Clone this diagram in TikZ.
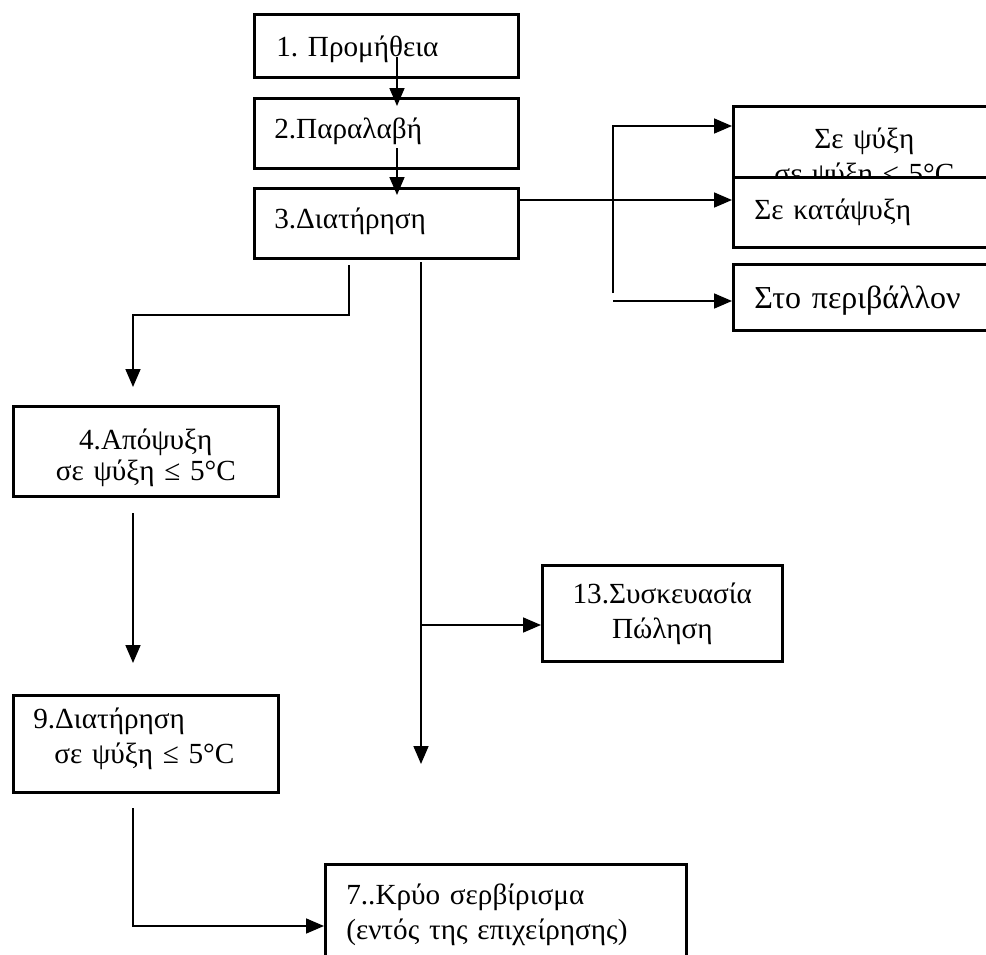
\documentclass[tikz,border=0pt]{standalone}
\usepackage{fontspec}
\setmainfont{Liberation Serif}
\frenchspacing
\usetikzlibrary{arrows.meta,positioning}

\begin{document}
\begin{tikzpicture}[x=0.5pt, y=-0.5pt, semithick,
  main/.style = {draw, line width=1.3pt, fill=white, anchor=north west, inner ysep=0pt, font=\fontsize{14.6}{17.5}\selectfont},
  flow/.style = {line width=0.85pt, -{Triangle[length=9pt,width=7.5pt]}},
  line/.style = {line width=0.85pt}]
\useasboundingbox (0,0) rectangle (986,954);
\clip (0,0) rectangle (986,954);
\node[main, inner xsep=11pt, text width=110pt, text height=21pt, text depth=10.5pt, align=left] (1) at (253,13) {1. Προμήθεια};
\node[main, inner xsep=10pt, text width=112pt, text height=20pt, text depth=15pt, align=left] (2) at (253,97) {2.Παραλαβή};
\node[main, inner xsep=10pt, text width=112pt, text height=20pt, text depth=15pt, align=left] (3) at (253,187) {3.Διατήρηση};
\node[main, inner xsep=0pt, text width=131pt, text height=21pt, text depth=14.5pt, align=center] (psy) at (732,105) {Σε ψύξη\\σε ψύξη ≤ 5°C};
\node[main, inner xsep=10.5pt, text width=110pt, text height=21pt, text depth=14pt, align=left] (kat) at (732,176) {Σε κατάψυξη};
\node[main, inner xsep=10.5pt, text width=110pt, text height=22pt, text depth=11pt, align=left, font=\fontsize{16}{19}\selectfont] (env) at (732,263) {Στο περιβάλλον};
\node[main, inner xsep=0pt, text width=132.5pt, text height=21.5pt, text depth=23.5pt, align=center, font=\fontsize{14.6}{15.5}\selectfont] (4) at (12,405) {4.Απόψυξη\\σε ψύξη ≤ 5°C};
\node[main, inner xsep=0pt, text width=120pt, text height=19pt, text depth=29pt, align=center] (13) at (541,564) {13.Συσκευασία\\Πώληση};
\node[main, inner xsep=10pt, text width=112.5pt, text height=16.5pt, text depth=32pt, align=left] (9) at (12,694) {9.Διατήρηση\\\hspace*{10.5pt}σε ψύξη ≤ 5°C};
\node[main, inner xsep=10.5pt, text width=159.5pt, text height=20pt, text depth=48.5pt, align=left] (7) at (324,863) {7..Κρύο σερβίρισμα\\(εντός της επιχείρησης)};
% free ends of the connectors
\coordinate (s1) at (397,57);
\coordinate (s2) at (397,148);
\coordinate (t3) at (517,200);
\coordinate (f1) at (613,126);
\coordinate (f2) at (613,293);
\coordinate (f3) at (613,301);
\coordinate (d1) at (349,265);
\coordinate (d2) at (133,315);
\coordinate (d3) at (133,387);
\coordinate (v1) at (421,262);
\coordinate (v2) at (421,764);
\coordinate (v3) at (421,625);
\coordinate (e1) at (133,513);
\coordinate (e2) at (133,663);
\coordinate (g1) at (133,808);
\coordinate (g2) at (133,926);
\draw[flow, shorten >=-4.5pt] (s1) -- (s1 |- 2.north);
\draw[flow, shorten >=-4pt] (s2) -- (s2 |- 3.north);
\draw[flow] (t3) -- (t3 -| kat.west);
\draw[flow] (f2) -- (f1) -- (f1 -| psy.west);
\draw[flow] (f3) -- (f3 -| env.west);
\draw[flow] (d1) -- (d1 |- d2) -- (d2) -- (d3);
\draw[flow] (v1) -- (v2);
\draw[flow] (v3) -- (v3 -| 13.west);
\draw[flow] (e1) -- (e2);
\draw[flow] (g1) -- (g2) -- (g2 -| 7.west);
\end{tikzpicture}
\end{document}
